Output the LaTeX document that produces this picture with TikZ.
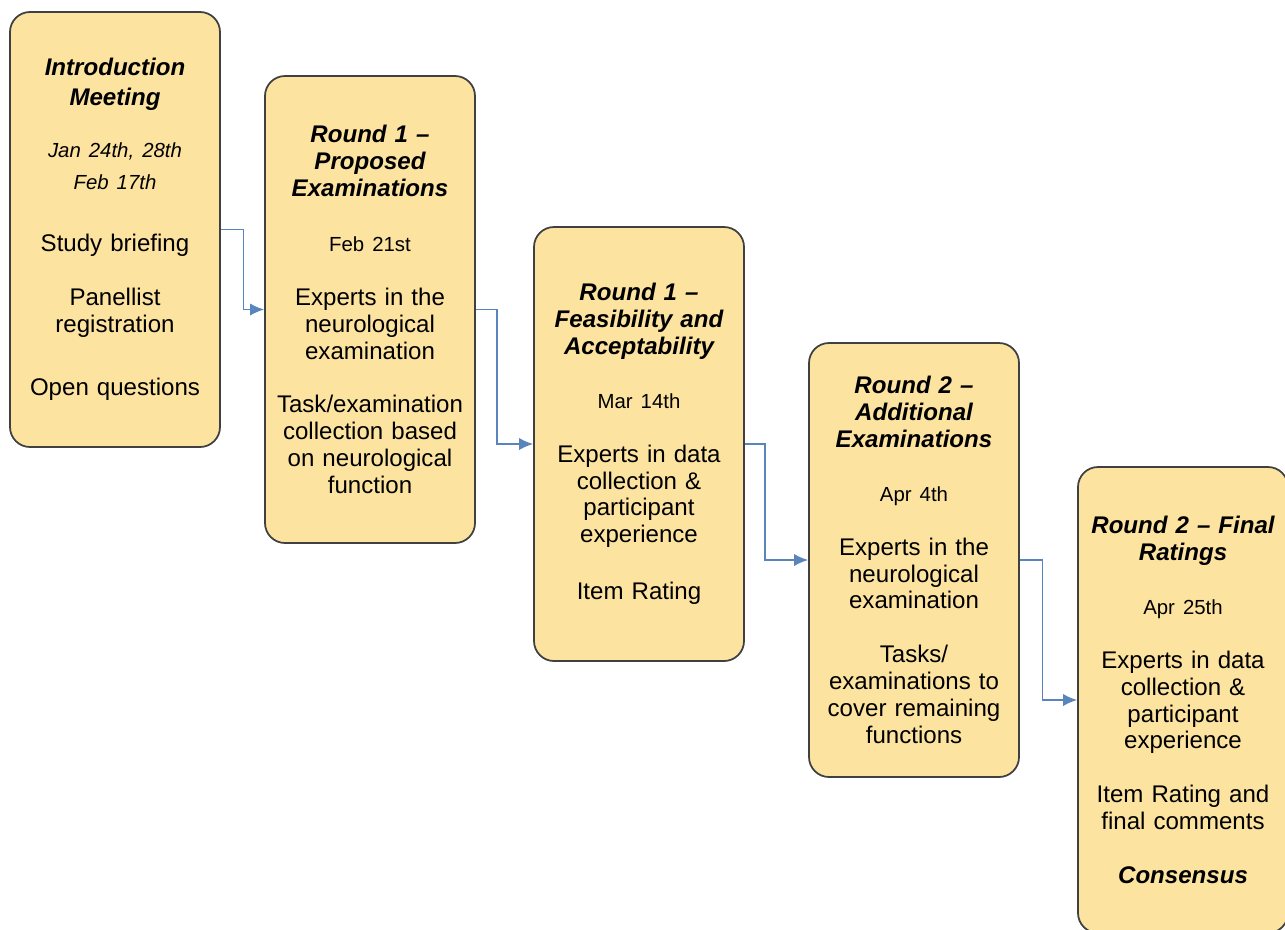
\documentclass[tikz,border=0pt]{standalone}
\usepackage{fontspec}
\setmainfont{Liberation Sans}
\usepackage{xcolor}
\usepackage{tikz}
\usetikzlibrary{arrows.meta}
\definecolor{stagefill}{HTML}{FCE3A0}
\definecolor{stageline}{HTML}{404040}
\definecolor{connblue}{HTML}{5A84BC}
\newcommand{\stagetitle}[1]{{\bfseries\itshape #1}}
\newcommand{\stagedate}[1]{{\fontsize{11.6}{13}\selectfont #1}}
\tikzset{
    stage/.style = {rectangle, rounded corners=0.4cm, draw=stageline, fill=stagefill, line width=1pt,
                    align=center, text width=4.0cm, inner xsep=0.1cm, minimum width=4.2cm,
                    font=\fontsize{13.7}{15.3}\selectfont},
    conn/.style = {draw=connblue, line width=0.9pt, -{Latex[length=8pt,width=7pt]}}
}
\begin{document}
\begin{tikzpicture}
    \useasboundingbox (0,0) rectangle (25.7,-18.58);

    % stages
    \node [stage, minimum height=8.7cm] (intro) at (2.3,-4.59)
        {\stagetitle{Introduction\\[2pt]Meeting}\\[14pt]
         \stagedate{\itshape Jan 24th, 28th}\\[3pt]
         \stagedate{\itshape Feb 17th}\\[20pt]
         Study briefing\\[15.3pt]
         Panellist\\registration\\[21pt]
         Open questions};
    \node [stage, minimum height=9.34cm] (roundA) at (7.4,-6.19)
        {\stagetitle{Round 1 --\\Proposed\\Examinations}\\[16pt]
         \stagedate{Feb 21st}\\[15.3pt]
         Experts in the\\neurological\\examination\\[15.3pt]
         Task/examination\\collection based\\on neurological\\function};
    \node [stage, minimum height=8.68cm] (roundB) at (12.78,-8.88)
        {\stagetitle{Round 1 --\\Feasibility and\\Acceptability}\\[15.3pt]
         \stagedate{Mar 14th}\\[15.3pt]
         Experts in data\\collection \&\\participant\\experience\\[17pt]
         Item Rating};
    \node [stage, minimum height=8.68cm] (roundC) at (18.28,-11.2)
        {\stagetitle{Round 2 --\\Additional\\Examinations}\\[15.3pt]
         \stagedate{Apr 4th}\\[15.3pt]
         Experts in the\\neurological\\examination\\[15.3pt]
         Tasks/\\examinations to\\cover remaining\\functions};
    \node [stage, minimum height=9.32cm] (roundD) at (23.66,-14.0)
        {\stagetitle{Round 2 -- Final\\Ratings}\\[15.3pt]
         \stagedate{Apr 25th}\\[15.3pt]
         Experts in data\\collection \&\\participant\\experience\\[15.3pt]
         Item Rating and\\final comments\\[15.3pt]
         \stagetitle{Consensus}};

    % connectors
    \draw [conn] (intro.east) -- ++(0.45,0) |- (roundA.west);
    \draw [conn] (roundA.east) -- ++(0.42,0) |- (roundB.west);
    \draw [conn] (roundB.east) -- ++(0.40,0) |- (roundC.west);
    \draw [conn] (roundC.east) -- ++(0.45,0) |- (roundD.west);
\end{tikzpicture}
\end{document}
